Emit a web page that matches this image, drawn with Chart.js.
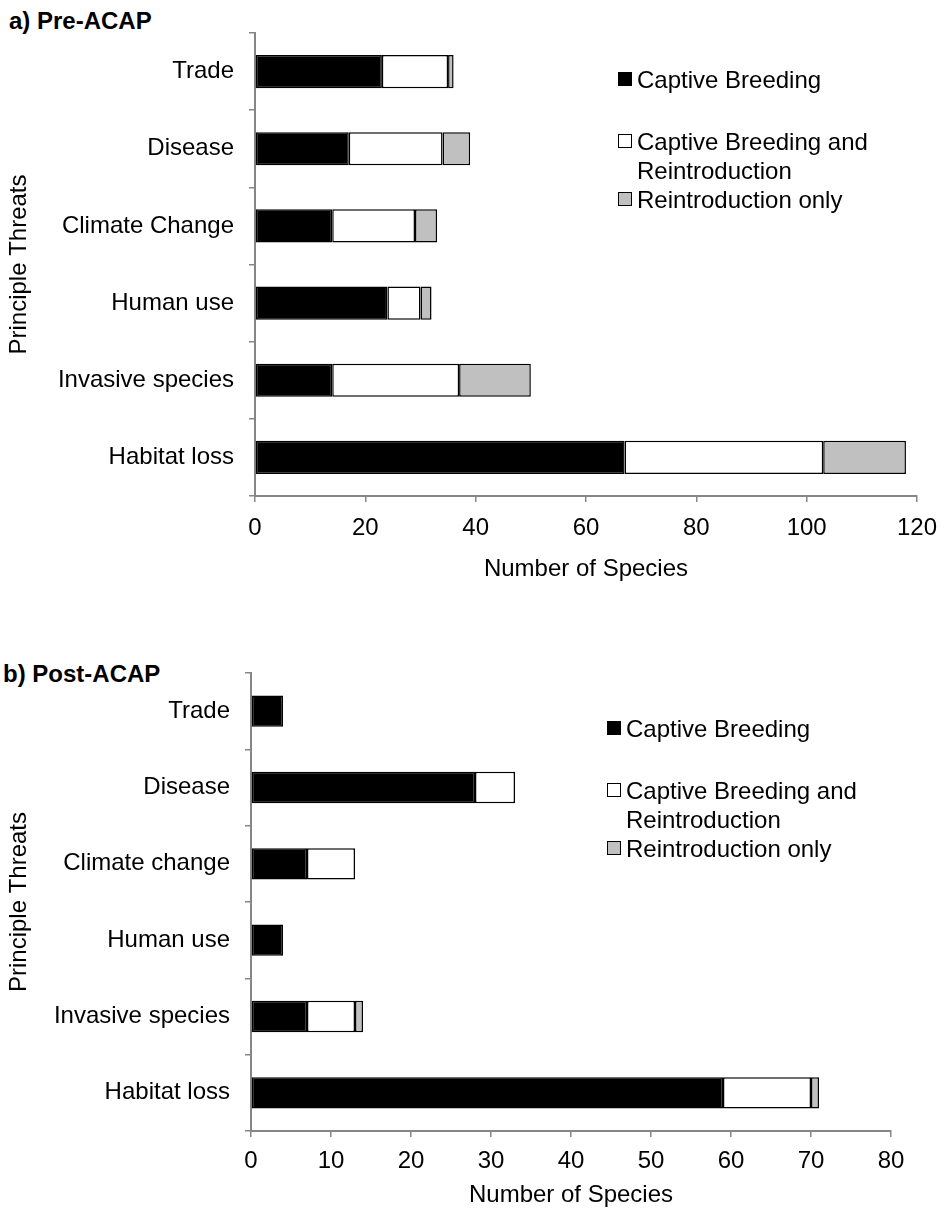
<!DOCTYPE html>
<html>
<head>
<meta charset="utf-8">
<script src="https://cdn.jsdelivr.net/npm/chart.js@4.4.0/dist/chart.umd.min.js"></script>
<style>
  body { margin: 0; background: #fff; font-family: "Liberation Sans", Arial, sans-serif; }
  #wrap { position: relative; width: 949px; height: 1212px; }
  .box { position: absolute; left: 0; width: 949px; }
  .heading { position: absolute; font-weight: bold; font-size: 24px; line-height: 24px; color: #000; }
  .legend { position: absolute; font-size: 24px; line-height: 29px; color: #000; }
  .item { display: flex; align-items: flex-start; position: absolute; left: 0; white-space: normal; }
  .sq { width: 12px; height: 12px; border: 1.5px solid #000; margin-top: 7px; margin-right: 5px; flex: none; }
  .txt { width: 260px; }
</style>
</head>
<body>
<div id="wrap">
  <div class="heading" id="titleA" style="left:9px; top:9px;"></div>
  <div class="box" style="top:0; height:600px;"><canvas id="chartA" width="949" height="600"></canvas></div>
  <div class="legend" id="legendA" style="left:618px; top:65px;"></div>

  <div class="heading" id="titleB" style="left:3px; top:662px;"></div>
  <div class="box" style="top:600px; height:612px;"><canvas id="chartB" width="949" height="612"></canvas></div>
  <div class="legend" id="legendB" style="left:607px; top:714px;"></div>
</div>

<script>
// panel titles
var titleA = "a) Pre-ACAP";
var titleB = "b) Post-ACAP";

// series names + colours
var seriesNames = ["Captive Breeding", "Captive Breeding and Reintroduction", "Reintroduction only"];
var seriesColors = ["#000000", "#ffffff", "#c0c0c0"];

// a) Pre-ACAP, top to bottom
var threatsPre = ["Trade", "Disease", "Climate Change", "Human use", "Invasive species", "Habitat loss"];
var preBreeding = [23, 17, 14, 24, 14, 67];
var preBoth     = [12, 17, 15, 6, 23, 36];
var preReintro  = [1, 5, 4, 2, 13, 15];

// b) Post-ACAP
var threatsPost = ["Trade", "Disease", "Climate change", "Human use", "Invasive species", "Habitat loss"];
var postBreeding = [4, 28, 7, 4, 7, 59];
var postBoth     = [0, 5, 6, 0, 6, 11];
var postReintro  = [0, 0, 0, 0, 1, 1];

var xTitle = "Number of Species";
var yTitle = "Principle Threats";

const FONT = "'Liberation Sans', Arial, sans-serif";
const FSIZE = 24;
const AXIS_GREY = "#868686";

document.getElementById("titleA").textContent = titleA;
document.getElementById("titleB").textContent = titleB;

// zero values would leave a hairline, so drop them
const noZero = (arr) => arr.map(v => v === 0 ? null : v);

const makeSets = (a, b, c) => [a, b, c].map((vals, i) => ({
    label: seriesNames[i],
    data: noZero(vals),
    backgroundColor: seriesColors[i],
    borderColor: "#000",
    borderWidth: 1.5,
    borderSkipped: false
}));

const buildChart = (id, labels, sets, opt) => {
    return new Chart(id, {
        type: "bar",
        data: { labels: labels, datasets: sets },
        options: {
            indexAxis: "y",
            responsive: false,
            animation: false,
            events: [],
            layout: { padding: { top: opt.top, right: opt.right, left: 0, bottom: 0 } },
            datasets: { bar: { barPercentage: opt.barPct, categoryPercentage: 1 } },
            plugins: { legend: { display: false }, tooltip: { enabled: false } },
            scales: {
                x: {
                    stacked: true,
                    min: 0, max: opt.max,
                    ticks: { stepSize: opt.step, color: "#000", padding: opt.tickPad, font: { family: FONT, size: FSIZE } },
                    grid: { drawOnChartArea: false, tickLength: 6, color: AXIS_GREY, lineWidth: 1.5 },
                    border: { color: AXIS_GREY, width: 2 },
                    title: { display: true, text: xTitle, color: "#000", font: { family: FONT, size: FSIZE },
                             padding: { top: 0, bottom: opt.titlePad } },
                    afterFit: (s) => { s.height = opt.xh; }
                },
                y: {
                    stacked: true,
                    ticks: { color: "#000", padding: 15, font: { family: FONT, size: FSIZE } },
                    grid: { drawOnChartArea: false, tickLength: 6, color: AXIS_GREY, lineWidth: 1.5, offset: true },
                    border: { color: AXIS_GREY, width: 2 },
                    title: { display: true, text: yTitle, color: "#000", font: { family: FONT, size: FSIZE },
                             padding: { top: 5, bottom: 0 } },
                    afterFit: (s) => { s.width = opt.yw; }
                }
            }
        }
    });
};

buildChart("chartA", threatsPre, makeSets(preBreeding, preBoth, preReintro),
    { top: 33, right: 23, max: 120, step: 20, barPct: 0.43, xh: 104, yw: 255, titlePad: 16, tickPad: 12 });

buildChart("chartB", threatsPost, makeSets(postBreeding, postBoth, postReintro),
    { top: 73, right: 58, max: 80, step: 10, barPct: 0.41, xh: 81, yw: 251, titlePad: 2, tickPad: 10 });

// legend, drawn as html next to the bars
const fillLegend = (id) => {
    var el = document.getElementById(id);
    var tops = [0, 62, 120];
    seriesNames.forEach((name, i) => {
        var row = document.createElement("div");
        row.className = "item";
        row.style.top = tops[i] + "px";
        var sq = document.createElement("div");
        sq.className = "sq";
        sq.style.background = seriesColors[i];
        var t = document.createElement("div");
        t.className = "txt";
        t.textContent = name;
        row.appendChild(sq);
        row.appendChild(t);
        el.appendChild(row);
    });
};
fillLegend("legendA");
fillLegend("legendB");
</script>
</body>
</html>
